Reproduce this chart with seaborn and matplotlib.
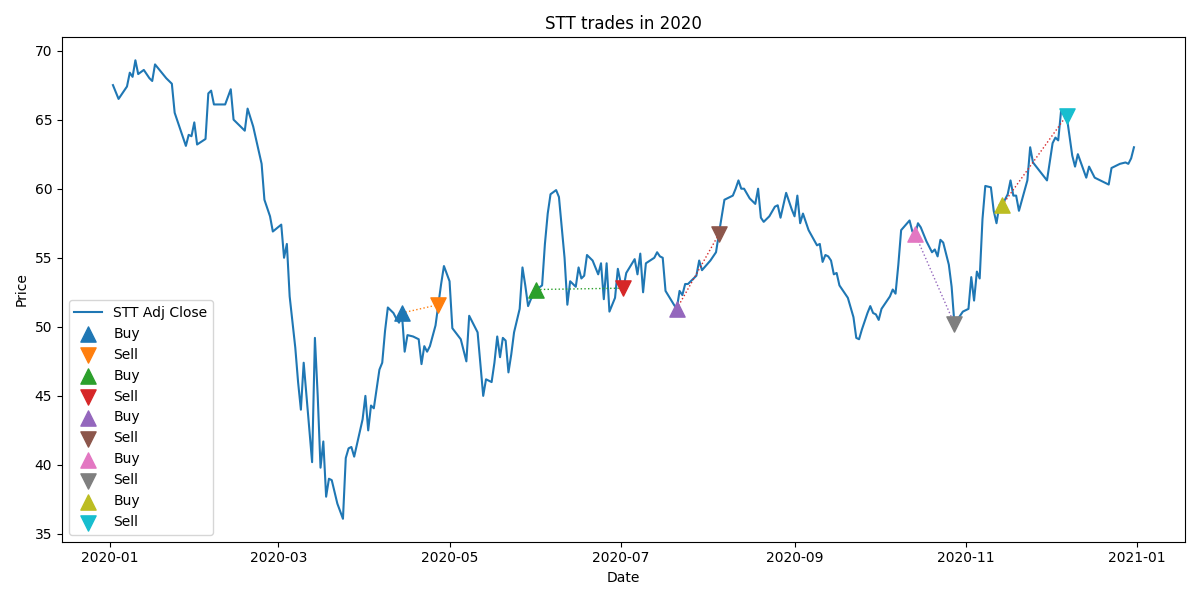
import numpy as np
import pandas as pd
import matplotlib
matplotlib.use("Agg")
import matplotlib.pyplot as plt
import seaborn as sns

days = [1,3,6,7,8,9,10,12,14,15,16,20,22,23,27,28,29,30,31,34,35,36,37,41,43,44,48,49,51,54,55,57,58,61,62,63,64,66,67,68,69,70,72,73,74,75,76,77,78,79,81,83,84,85,86,87,90,91,92,93,94,95,96,97,98,99,101,102,103,104,105,106,108,110,111,112,113,114,116,117,118,119,121,122,125,127,128,131,132,133,134,136,137,138,139,140,141,142,143,144,146,147,148,149,150,152,154,155,156,157,159,160,162,163,164,166,167,168,169,170,172,174,175,176,177,178,180,181,182,183,184,187,188,189,190,191,194,195,196,197,198,201,202,203,204,205,206,209,210,211,214,216,217,219,222,223,224,225,226,228,230,231,232,233,235,237,238,239,241,243,244,245,246,247,249,252,253,254,255,256,257,258,259,260,263,265,266,267,268,270,271,272,273,274,275,278,279,280,281,282,285,286,287,288,289,291,293,294,295,296,297,299,300,301,304,306,307,308,309,310,311,312,314,315,316,317,318,320,321,322,323,324,327,328,329,334,336,337,338,339,341,343,344,345,348,349,351,356,357,360,362,363,364,365]
prices = [67.5,66.5,67.4,68.4,68.1,69.3,68.3,68.6,68.0,67.8,69.0,68.0,67.6,65.5,63.1,63.9,63.8,64.8,63.2,63.6,66.9,67.1,66.1,66.1,67.2,65.0,64.2,65.8,64.5,61.8,59.2,58.0,56.9,57.4,55.0,56.0,52.2,48.5,46.0,44.0,47.4,45.0,40.2,49.2,45.0,39.8,41.7,37.7,39.0,38.9,37.2,36.1,40.5,41.2,41.3,40.6,43.3,45.0,42.5,44.3,44.1,45.5,46.9,47.4,49.7,51.4,51.0,50.6,50.3,51.0,48.2,49.4,49.3,49.1,47.3,48.6,48.2,48.6,50.1,51.6,53.1,54.4,53.3,49.9,49.1,47.5,50.8,49.6,47.3,45.0,46.2,46.0,47.4,49.3,47.8,49.2,49.0,46.7,48.0,49.6,51.3,54.3,53.0,51.5,52.0,52.7,53.0,56.0,58.2,59.6,59.9,59.4,55.0,51.6,53.3,52.9,54.3,53.5,53.7,55.2,54.8,53.8,54.6,52.0,54.6,51.1,52.1,54.2,53.2,52.8,53.9,54.9,53.8,55.3,52.5,54.6,55.0,55.4,55.1,55.0,52.6,51.6,51.3,52.6,52.3,53.1,53.1,53.7,54.8,54.1,54.8,55.4,56.7,59.2,59.5,60.0,60.6,60.0,60.0,59.3,58.9,60.0,57.9,57.6,58.0,58.7,58.8,57.9,59.7,58.5,58.0,59.5,57.5,58.2,57.0,55.9,56.0,54.7,55.2,55.1,54.8,53.8,53.9,53.0,52.1,50.7,49.2,49.1,49.8,51.0,51.5,51.0,50.9,50.5,51.3,52.2,52.7,52.4,54.5,57.0,57.7,56.9,56.7,57.5,57.2,56.2,55.4,55.6,55.1,56.3,56.1,54.5,52.9,50.2,51.1,51.3,53.6,51.9,54.0,53.5,57.8,60.2,60.1,58.4,57.5,58.8,58.8,59.6,60.6,59.5,59.5,58.4,60.6,63.0,61.9,60.6,63.3,63.7,63.5,65.6,65.3,62.4,61.6,62.5,60.8,61.6,60.8,60.3,61.5,61.8,61.9,61.8,62.2,63.0]

buy_days = [104, 152, 202, 287, 318]
buy_prices = [51.0, 52.7, 51.3, 56.7, 58.8]
sell_days = [117, 183, 217, 301, 341]
sell_prices = [51.6, 52.8, 56.7, 50.2, 65.3]

base = pd.Timestamp("2020-01-01")
df = pd.DataFrame({"Date": base + pd.to_timedelta(days, "D"), "Price": prices})

pal = sns.color_palette("tab10")
line_cols = [pal[1], pal[2], pal[3], pal[4], pal[3]]

fig, ax = plt.subplots(figsize=(12, 6), dpi=100)
sns.lineplot(data=df, x="Date", y="Price", ax=ax, label="STT Adj Close", color=pal[0])
for i in range(5):
    bd = base + pd.Timedelta(days=buy_days[i])
    sd = base + pd.Timedelta(days=sell_days[i])
    ax.plot([bd, sd], [buy_prices[i], sell_prices[i]], ls=":", lw=1, color=line_cols[i])
    ax.scatter([bd], [buy_prices[i]], marker="^", s=120, color=pal[2*i], label="Buy", zorder=3)
    ax.scatter([sd], [sell_prices[i]], marker="v", s=120, color=pal[2*i+1], label="Sell", zorder=3)

ax.set_title("STT trades in 2020")
ax.set_xlabel("Date")
ax.set_ylabel("Price")
ax.legend(loc="lower left")
fig.tight_layout()
fig.savefig("out.png")
